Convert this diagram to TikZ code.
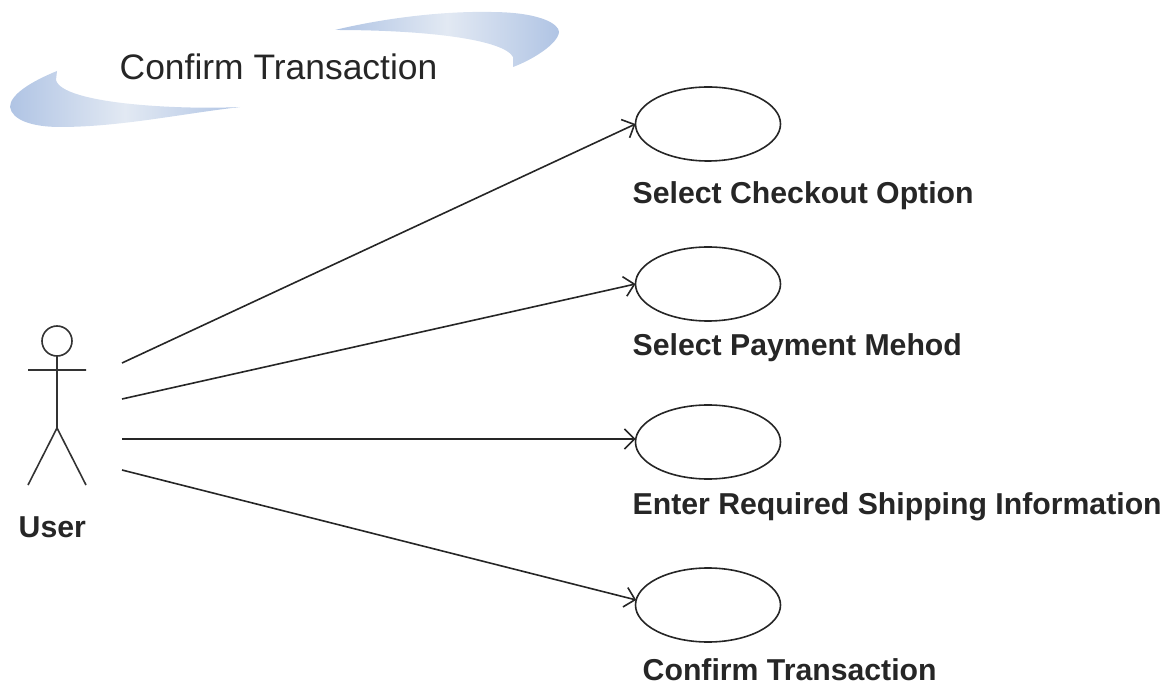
\documentclass[tikz,border=0pt]{standalone}
\usepackage{fontspec}
\setmainfont{Liberation Sans}
\usetikzlibrary{shapes.geometric,arrows.meta}
\definecolor{swooshblue}{RGB}{176,196,228}
\definecolor{swooshpale}{RGB}{226,233,243}
\begin{document}
\begin{tikzpicture}
\tikzset{case style/.style={shape=ellipse,draw=black!85,line width=0.016cm,minimum width=1.45cm,minimum height=0.74cm,inner sep=0pt,outer sep=0pt},
  label style/.style={anchor=west,inner sep=0pt,font=\fontsize{8.6}{10}\selectfont\bfseries,text=black!85},
  actor style/.style={draw=black!80,line width=0.016cm}}
\useasboundingbox (0,0) rectangle (11.73,-6.85);

% banner
\path[left color=swooshblue,right color=swooshblue,middle color=swooshpale] (0.57,-0.71)
  .. controls (0.30,-0.82) and (0.10,-0.95) .. (0.10,-1.07)
  .. controls (0.12,-1.20) and (0.32,-1.27) .. (0.60,-1.27)
  .. controls (1.20,-1.27) and (1.80,-1.14) .. (2.40,-1.07)
  .. controls (1.80,-1.10) and (0.62,-1.04) .. (0.56,-0.80) -- cycle;
\path[left color=swooshblue,right color=swooshblue,middle color=swooshpale] (3.35,-0.30)
  .. controls (3.80,-0.19) and (4.40,-0.11) .. (4.90,-0.12)
  .. controls (5.40,-0.12) and (5.59,-0.24) .. (5.59,-0.32)
  .. controls (5.58,-0.44) and (5.32,-0.60) .. (5.13,-0.67)
  -- (5.13,-0.57) .. controls (5.04,-0.40) and (4.30,-0.30) .. (3.35,-0.30) -- cycle;
\node[anchor=west,inner sep=0pt,font=\fontsize{10.08}{12}\selectfont,text=black!85] at (1.19,-0.67) (title) {Confirm Transaction};

% actor
\node[shape=circle,actor style,minimum size=0.30cm,inner sep=0pt,outer sep=0pt] at (0.57,-3.41) (head) {};
\coordinate (hip) at (0.57,-4.28);
\coordinate (armL) at (0.28,-3.70);
\coordinate (armR) at (0.86,-3.70);
\coordinate (footL) at (0.28,-4.85);
\coordinate (footR) at (0.86,-4.85);
\draw[actor style] (head.south) -- (hip) (armL) -- (armR) (footL) -- (hip) -- (footR);
\node[label style] at (0.18,-5.27) (user) {User};

% use cases
\node[case style] at (7.08,-1.24) (1) {};
\node[case style] at (7.08,-2.84) (2) {};
\node[case style] at (7.08,-4.42) (3) {};
\node[case style] at (7.08,-6.05) (4) {};

\node[label style] at (6.32,-1.96) (lab1) {Select Checkout Option};
\node[label style] at (6.32,-3.48) (lab2) {Select Payment Mehod};
\node[label style] at (6.32,-5.07) (lab3) {Enter Required Shipping Information};
\node[label style] at (6.42,-6.70) (lab4) {Confirm Transaction};

\coordinate (a1) at (1.22,-3.63);
\coordinate (a2) at (1.22,-3.99);
\coordinate (a3) at (1.22,-4.39);
\coordinate (a4) at (1.22,-4.70);

\draw[line width=0.016cm, draw=black!85, >={Straight Barb[length=0.10cm,width=0.2cm]}]
            (a1)     edge[->]    (1.west)
            (a2)     edge[->]    (2.west)
            (a3)     edge[->]    (3.west |- a3)
            (a4)     edge[->]    (4.176)
;
\end{tikzpicture}
\end{document}
